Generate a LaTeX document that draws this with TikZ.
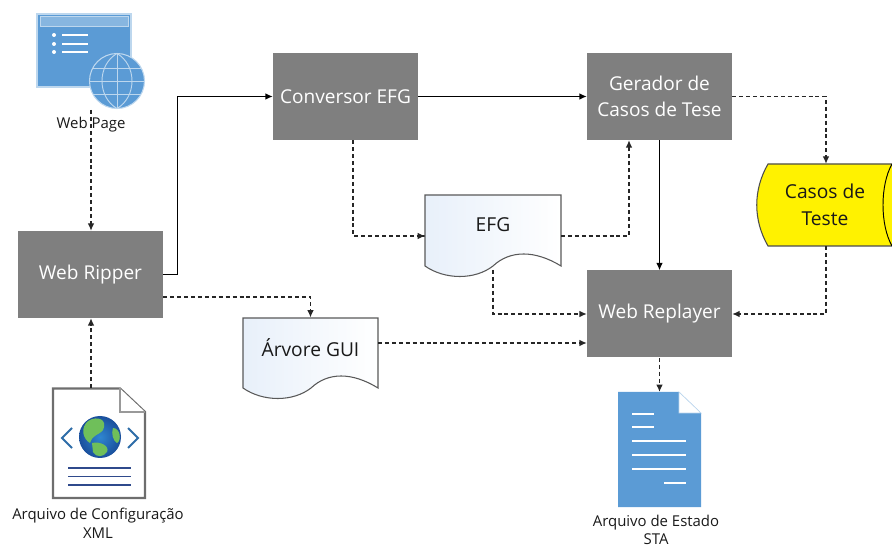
\documentclass[tikz,border=0pt]{standalone}
\usepackage{fontspec}
\setmainfont{Open Sans}
\usetikzlibrary{arrows.meta,positioning}
\definecolor{boxgray}{HTML}{7F7F7F}
\definecolor{iconblue}{HTML}{5B9BD5}
\definecolor{paleblue}{HTML}{BDD7EE}
\definecolor{docline}{HTML}{6E6E6E}
\definecolor{navy}{HTML}{2F4A8C}
\definecolor{chev}{HTML}{2E6DA8}
\definecolor{paledoc}{HTML}{E8F0FA}
\definecolor{seablue}{HTML}{2F86D0}
\definecolor{seadeep}{HTML}{1A4F9C}
\definecolor{landgreen}{HTML}{6FBF5A}
\tikzset{
  procbox/.style={fill=boxgray,draw=none,text=white,minimum width=108.75pt,minimum height=65.25pt,inner sep=0pt,align=center,font=\fontsize{14.3pt}{20pt}\selectfont},
  docanchor/.style={draw=none,inner sep=0pt,minimum width=#1,minimum height=53pt},
  lbl/.style={font=\fontsize{11.2pt}{14pt}\selectfont,align=center,inner sep=0pt,text=black!90},
  doctext/.style={font=\fontsize{14.4pt}{18pt}\selectfont,inner sep=0pt,text=black!90},
  solidc/.style={draw=black,line width=0.9pt,-{Latex[length=5.5pt,width=5pt]}},
  dashc/.style={draw=black!85,line width=0.9pt,dash pattern=on 3pt off 2.2pt,-{Latex[length=5.5pt,width=5pt]}},
  docwave/.style={draw=black!65,line width=0.8pt,left color=paledoc,right color=white},
}
\begin{document}
\begin{tikzpicture}[x=0.75pt,y=-0.75pt]
\useasboundingbox (0,0) rectangle (892,548);

% ---- process boxes
\node[procbox] (ripper) at (90.5,274.5) {Web Ripper};
\node[procbox] (conv) at (345.5,96.5) {Conversor EFG};
\node[procbox] (ger) at (659.5,96.5) {Gerador de\\Casos de Tese};
\node[procbox] (rep) at (659.5,314) {Web Replayer};

% ---- documents with a wavy foot
\node[docanchor=102pt] (efg) at (493,230) {};
\draw[docwave] (425,195) -- (561,195) -- (561,266)
  .. controls (535,250) and (510,250) .. (493,266)
  .. controls (475,280) and (445,280) .. (425,266) -- cycle;
\node[doctext] (efgt) at (493,225) {EFG};

\node[docanchor=101pt] (arv) at (310.5,353) {};
\draw[docwave] (243,318) -- (378,318) -- (378,388)
  .. controls (352,372) and (328,372) .. (311,388)
  .. controls (293,402) and (263,402) .. (243,388) -- cycle;
\node[doctext] (arvt) at (310.5,348) {Árvore GUI};

% ---- stored data
\path[fill=yellow,draw=black!70,line width=0.8pt] (892,164) -- (768,164)
  .. controls (753,190) and (753,220) .. (768,246) -- (892,246);
\draw[black,line width=0.7pt] (892,164) .. controls (880,185) and (880,225) .. (892,246);
\node[draw=none,minimum width=138pt,minimum height=61.5pt,inner sep=0pt] (cas) at (826,205) {};
\node[font=\fontsize{14.4pt}{20pt}\selectfont,align=center,inner sep=0pt,text=black!90] (cast) at (825,205) {Casos de\\Teste};

% ---- web page icon
\draw[fill=iconblue,draw=paleblue,line width=0.8pt] (37,14) rectangle (131,87);
\fill[paleblue!45!iconblue] (40,16.5) rectangle (128,26);
\draw[draw=paleblue,line width=0.6pt] (40,16.5) rectangle (128,26);
\foreach \yy in {35,44,52}{
  \fill[white] (54,\yy) circle (2);
  \draw[white,line width=1.4pt] (62,\yy) -- (88,\yy);
}
\fill[iconblue,draw=paleblue,line width=0.8pt] (117,81) circle (27.5);
\begin{scope}[draw=paleblue,line width=0.7pt]
  \draw (117,53.5) -- (117,108.5);
  \draw (89.5,81) -- (144.5,81);
  \draw (93,68) -- (141,68);
  \draw (93,94) -- (141,94);
  \draw (117,53.5) .. controls (97,65) and (97,97) .. (117,108.5);
  \draw (117,53.5) .. controls (137,65) and (137,97) .. (117,108.5);
\end{scope}
\node[lbl] (wplabel) at (91,125) {Web Page};

% ---- XML document icon
\node[draw=none,minimum width=69pt,minimum height=82.5pt,inner sep=0pt] (xml) at (99,443) {};
\draw[draw=docline,fill=white,line width=1.7pt,line join=miter] (53,388.5) -- (120,388.5) -- (145,412) -- (145,498) -- (53,498) -- cycle;
\draw[draw=docline!70,fill=white,line width=1.4pt] (120,388.5) -- (120,412) -- (145,412);
\begin{scope}
  \clip (100,437) circle (21);
  \shade[inner color=seablue,outer color=seadeep] (79,416) rectangle (121,458);
  \fill[landgreen] (88,421) .. controls (98,415) and (108,420) .. (103,430) .. controls (98,436) and (93,434) .. (90,443) .. controls (83,439) and (80,428) .. (88,421) -- cycle;
  \fill[landgreen] (92,443) .. controls (100,441) and (110,446) .. (107,452) .. controls (104,457) and (96,458) .. (93,452) -- cycle;
  \fill[landgreen] (113,428) .. controls (120,428) and (122,440) .. (117,443) .. controls (113,441) and (111,433) .. (113,428) -- cycle;
\end{scope}
\draw[chev,line width=1.5pt] (72,428) -- (62,438) -- (72,448);
\draw[chev,line width=1.5pt] (128,428) -- (138,438) -- (128,448);
\foreach \yy in {468,476.5,485}{
  \draw[navy,line width=1pt] (68,\yy) -- (131,\yy);
}
\node[lbl] (xmllabel) at (98,523.5) {Arquivo de Configuração\\XML};

% ---- STA document icon
\node[draw=none,minimum width=62pt,minimum height=86pt,inner sep=0pt] (sta) at (659.5,449.5) {};
\fill[iconblue] (618,392) -- (679,392) -- (701,413) -- (701,507) -- (618,507) -- cycle;
\draw[draw=paleblue,fill=white,line width=0.5pt] (679,392) -- (701,413) -- (679,413) -- cycle;
\foreach \yy/\xa/\xb in {414/632/654,427/632/654,441/632/686,455/632/686,469/632/686,483/664/686}{
  \draw[white,line width=1.7pt] (\xa,\yy) -- (\xb,\yy);
}
\node[lbl] (stalabel) at (656,530) {Arquivo de Estado\\STA};

% ---- connectors
\coordinate (wpout) at (91,110);
\draw[dashc] (wpout) -- (ripper.north -| wpout);
\draw[dashc] (xml.north -| 91,0) -- (ripper.south -| 91,0);
\draw[solidc] (ripper.east) -- ++(14,0) |- (conv.west);
\draw[dashc] (ripper.east |- 0,297) -| (arv.north);
\draw[solidc] (conv.east) -- (ger.west);
\draw[dashc] (conv.south -| 353,0) |- (efg.west |- 0,236) -- (425,236);
\draw[dashc] (561,236) -| (ger.south -| 629,0);
\draw[solidc] (ger.south) -- (rep.north);
\draw[dashc] (ger.east) -| (cas.north);
\draw[dashc] (cas.south) |- (rep.east);
\draw[dashc] (493,270) |- (rep.west);
\draw[dashc] (378,343) -- (rep.west |- 0,343);
\draw[dashc] (rep.south) -- (sta.north);
\end{tikzpicture}
\end{document}
